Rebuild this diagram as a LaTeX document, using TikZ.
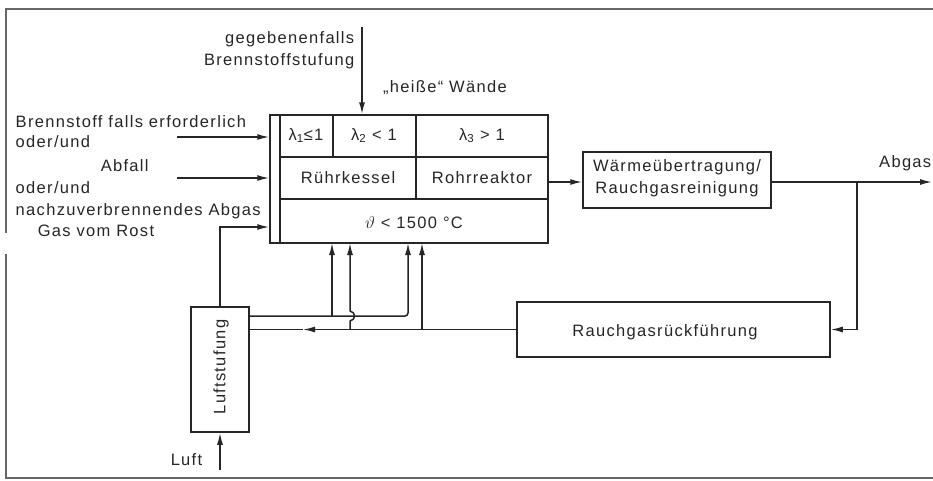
\documentclass[tikz,border=0pt]{standalone}
\usepackage{fontspec}
\setmainfont[LetterSpace=8]{Liberation Sans}
\usetikzlibrary{arrows.meta}
\begin{document}
\begin{tikzpicture}[x=1pt,y=-1pt,
  color=black!85,
  line width=1.5pt,
  txt/.style={font=\fontsize{16.5}{18}\selectfont, inner sep=0pt},
  box/.style={draw, rectangle, inner sep=0pt},
  tip/.style={-{Latex[length=12pt,width=6pt]}},
  frame/.style={line width=1.2pt, black!60}
]
\useasboundingbox (0,0) rectangle (933,480);
% outer frame
\draw[frame] (933,9) -- (6,9) -- (6,233);
\draw[frame] (6,254) -- (6,478) -- (933,478);

% main reactor box
\node[box, minimum width=278pt, minimum height=128pt] (main) at (409,179) {};
\node[box, minimum width=10pt, minimum height=128pt] (strip) at (275,179) {};
\draw (280,157) -- (main.east |- 0,157);
\draw (280,199) -- (main.east |- 0,199);
\draw (333,115) -- (333,157);
\draw (416,115) -- (416,199);
\node[txt, anchor=base] (l1) at (306,140) {λ\textsubscript{1}≤1};
\node[txt, anchor=base] (l2) at (374,140) {λ\textsubscript{2} < 1};
\node[txt, anchor=base] (l3) at (482,140) {λ\textsubscript{3} > 1};
\node[txt, anchor=base] (rk) at (348,183) {Rührkessel};
\node[txt, anchor=base] (rr) at (482,183) {Rohrreaktor};
\node[txt, anchor=base] (th) at (414,228) {$\vartheta$ < 1500 °C};

% other boxes
\node[box, minimum width=188pt, minimum height=56pt] (wu) at (677,180) {};
\node[txt, anchor=base] (wu1) at (677,171) {Wärmeübertragung/};
\node[txt, anchor=base] (wu2) at (677,193) {Rauchgasreinigung};
\node[box, minimum width=313pt, minimum height=55pt] (rg) at (673.5,329.5) {};
\node[txt, anchor=base] (rgt) at (665,336) {Rauchgasrückführung};
\node[box, minimum width=58pt, minimum height=125pt] (ls) at (220,369.5) {};
\node[txt, rotate=90] (lst) at (221,367) {Luftstufung};

% texts
\node[txt, anchor=base east] (g1) at (355,43) {gegebenenfalls};
\node[txt, anchor=base east] (g2) at (355,65) {Brennstoffstufung};
\node[txt, anchor=base] (hw) at (445,92) {„heiße“ Wände};
\node[txt, anchor=base west] (i1) at (15,127) {Brennstoff falls erforderlich};
\node[txt, anchor=base west] (i2) at (15,147) {oder/und};
\node[txt, anchor=base west] (i3) at (100,171) {Abfall};
\node[txt, anchor=base west] (i4) at (15,193) {oder/und};
\node[txt, anchor=base west] (i5) at (15,215) {nachzuverbrennendes Abgas};
\node[txt, anchor=base west] (i6) at (37,236) {Gas vom Rost};
\node[txt, anchor=base east] (ab) at (932,167) {Abgas};
\node[txt, anchor=base west] (lu) at (170,465) {Luft};

% inputs
\coordinate (a1) at (177,137);
\coordinate (a2) at (177,178);
\draw[tip] (a1) -- (a1 -| strip.west);
\draw[tip] (a2) -- (a2 -| strip.west);
\draw[tip] (ls.north) |- (strip.west |- 0,227);
\coordinate (t0) at (362,27);
\draw[tip] (t0) -- (t0 |- main.north);

% flow to right
\draw[tip] (main.east |- 0,182) -- (wu.west |- 0,182);
\coordinate (out) at (932,182);
\draw[tip] (wu.east |- 0,182) -- (out);
\coordinate (j) at (857,182);
\draw[tip] (j) |- (rg.east);

% recirculation
\coordinate (m) at (303,329.5);
\draw[tip] (rg.west) -- (m);
\draw (m) -- (ls.east |- rg.west);
\draw[tip] (422,329.5) -- (422,243);
\draw[tip] (350,329.5) -- (350,321) .. controls (356,320) and (356,312) .. (350,311) -- (350,243);

% secondary air
\draw[tip, rounded corners=3pt] (ls.east |- 0,316) -- (408,316) -- (408,243);
\draw[tip] (332,316) -- (332,243);

% air input
\coordinate (luft) at (220,470);
\draw[tip] (luft) -- (ls.south);
\end{tikzpicture}
\end{document}
